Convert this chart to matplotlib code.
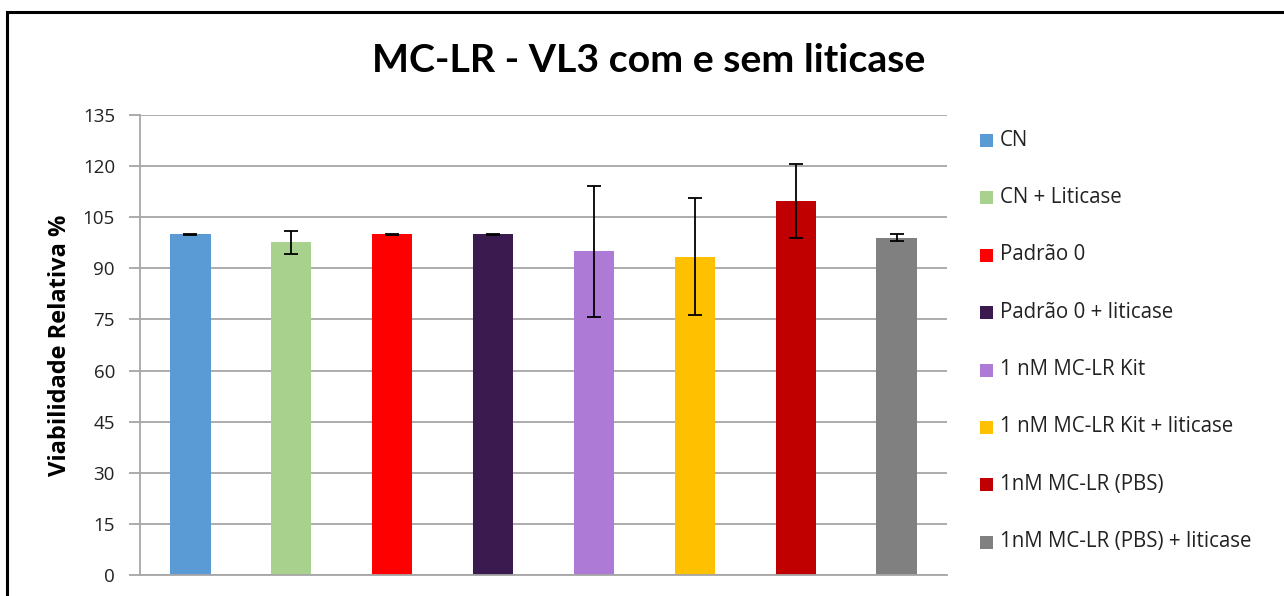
import matplotlib
matplotlib.use("Agg")
import matplotlib.pyplot as plt
from matplotlib.patches import Rectangle
import numpy as np

categories = ["CN", "CN + Liticase", "Padrão 0", "Padrão 0 + liticase",
              "1 nM MC-LR Kit", "1 nM MC-LR Kit + liticase",
              "1nM MC-LR (PBS)", "1nM MC-LR (PBS) + liticase"]
values = [100, 97.6, 100, 100, 95.0, 93.4, 109.8, 99.0]
errors = [0.1, 3.4, 0.1, 0.1, 19.3, 17.2, 10.8, 1.1]
colors = ["#5B9BD5", "#A9D18E", "#FF0000", "#3B1A4F",
          "#AD7BD6", "#FFC000", "#C00000", "#808080"]
yticks = [0, 15, 30, 45, 60, 75, 90, 105, 120, 135]

plt.rcParams['font.family'] = ['Open Sans', 'DejaVu Sans']

W, H = 1284, 596
fig = plt.figure(figsize=(W/100, H/100), dpi=100)
fig.patch.set_facecolor("white")

# outer frame
fig.patches.append(Rectangle((7/W, -0.1), 1.2, 1 - 12/H + 0.1, transform=fig.transFigure,
                             fill=False, edgecolor="black", linewidth=2.2, zorder=0))

ax = fig.add_axes([140/W, 1 - 575/H, (947-140)/W, (575-115)/H])
x = np.arange(len(categories))
ax.bar(x, values, width=0.4, color=colors, zorder=2)
ax.errorbar(x, values, yerr=errors, fmt="none", ecolor="black", elinewidth=1.3,
            capsize=5, capthick=1.3, zorder=3)
ax.set_xlim(-0.5, len(categories) - 0.5)
ax.set_ylim(0, 135)
ax.set_yticks(yticks)
ax.set_yticklabels([str(t) for t in yticks], fontsize=13.5, color="#222222")
ax.set_xticks([])
ax.yaxis.grid(True, color="#A6A6A6", linewidth=1.3, zorder=0)
ax.set_axisbelow(True)
for s in ["top", "right"]:
    ax.spines[s].set_visible(False)
for s in ["left", "bottom"]:
    ax.spines[s].set_color("#A6A6A6")
    ax.spines[s].set_linewidth(1.3)
ax.tick_params(axis="y", length=8, width=1.3, color="#A6A6A6", pad=10)
ax.set_ylabel("Viabilidade Relativa %", fontsize=17, fontweight="bold", labelpad=8)

fig.text(649/W, 1 - 60/H, "MC-LR - VL3 com e sem liticase", fontsize=28.3,
         fontweight="bold", ha="center", va="center", family=["Lato", "DejaVu Sans"])

# legend
leg_y0 = 140
leg_dy = 57.4
for i, (c, lab) in enumerate(zip(colors, categories)):
    yc = leg_y0 + i * leg_dy
    fig.patches.append(Rectangle((980/W, 1 - (yc + 7)/H), 13/W, 13/H,
                                 transform=fig.transFigure, facecolor=c, edgecolor="none"))
    fig.text(1000/W, 1 - yc/H, lab, fontsize=14.8, ha="left", va="center", color="#222222")

fig.savefig("out.png", dpi=100)
